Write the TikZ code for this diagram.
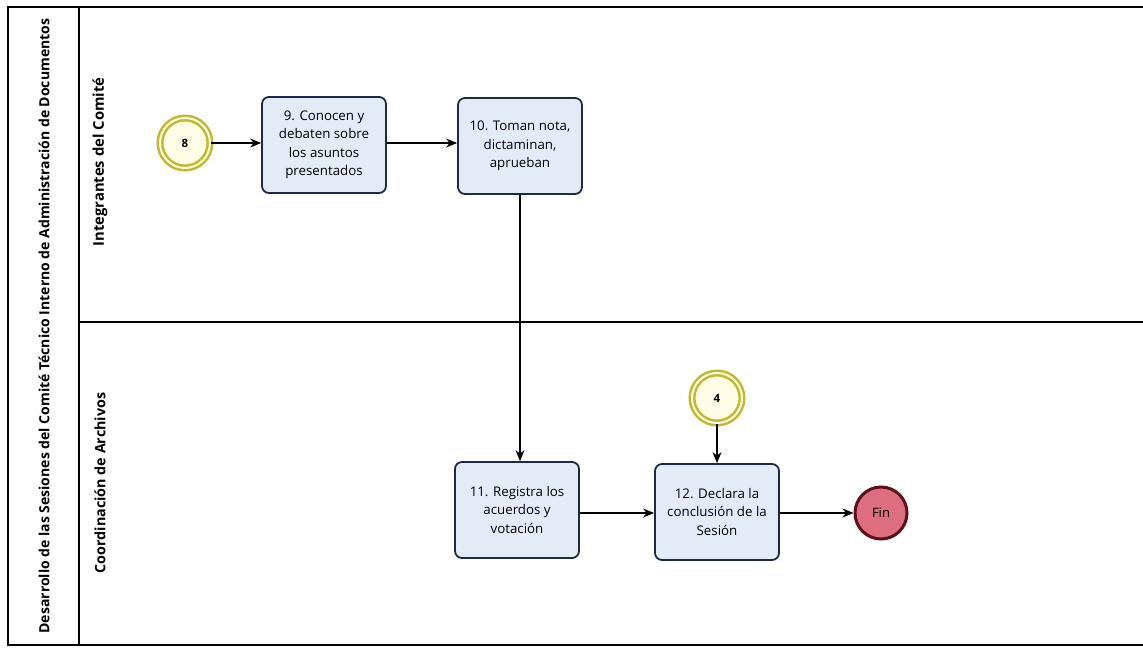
\documentclass[tikz,border=0pt]{standalone}
\usepackage{fontspec}
\setmainfont{Open Sans}
\usetikzlibrary{arrows.meta}
\definecolor{taskfill}{HTML}{E3EBF7}
\definecolor{taskdraw}{HTML}{1C2A48}
\definecolor{ringcol}{HTML}{C2B930}
\definecolor{ringfill}{HTML}{FFFDE6}
\definecolor{finfill}{HTML}{DC6E7E}
\definecolor{findraw}{HTML}{5E0F18}
\tikzset{
  task/.style={draw=taskdraw, line width=1.8pt, fill=taskfill, rounded corners=7pt,
    minimum width=124pt, minimum height=96pt, align=center, font=\fontsize{13.3}{18.5}\selectfont, inner sep=2pt},
  link/.style={draw=ringcol, line width=2.5pt, fill=ringfill, circle, minimum size=50pt,
    double=ringfill, double distance=2pt, font=\fontsize{11.5}{13}\selectfont\bfseries},
  endev/.style={draw=findraw, line width=3pt, fill=finfill, circle, minimum size=52pt,
    font=\fontsize{13}{15}\selectfont},
  flow/.style={draw=black, line width=1.1pt, -{Stealth[length=11pt,width=9pt]}},
  lanelabel/.style={rotate=90, font=\fontsize{14}{16}\selectfont\bfseries},
}
\begin{document}
\begin{tikzpicture}[x=1pt,y=-1pt]
\useasboundingbox (0,0) rectangle (1143,652);
% pool
\draw[line width=1.2pt] (1143,7) -- (8,7) -- (8,645) -- (1143,645);
\draw[line width=1.2pt] (79,7) -- (79,645);
\draw[line width=1.2pt] (79,322) -- (1143,322);
\node[lanelabel] (pool) at (44,326) {Desarrollo de las Sesiones del Comité Técnico Interno de Administración de Documentos};
\node[lanelabel, font=\fontsize{14.8}{16}\selectfont\bfseries] (lane1) at (100,162) {Integrantes del Comité};
\node[lanelabel, font=\fontsize{14.3}{16}\selectfont\bfseries] (lane2) at (100,483) {Coordinación de Archivos};
% nodes
\node[link] (e8) at (185,143) {8};
\node[task] (t9) at (324,145) {9. Conocen y\\debaten sobre\\los asuntos\\presentados};
\node[task] (t10) at (520,146) {10. Toman nota,\\dictaminan,\\aprueban};
\node[task] (t11) at (517,510) {11. Registra los\\acuerdos y\\votación};
\node[task] (t12) at (717,512) {12. Declara la\\conclusión de la\\Sesión};
\node[link] (e4) at (717,398) {4};
\node[endev] (fin) at (881,513) {Fin};
% flows
\draw[flow] (e8) -- (e8 -| t9.west);
\draw[flow] (t9.east |- e8) -- (t10.west |- e8);
\draw[flow] (t10.south) -- (t10.south |- t11.north);
\draw[flow] (t11.east |- fin) -- (t12.west |- fin);
\draw[flow] (e4) -- (t12.north);
\draw[flow] (t12.east |- fin) -- (fin);
\end{tikzpicture}
\end{document}
